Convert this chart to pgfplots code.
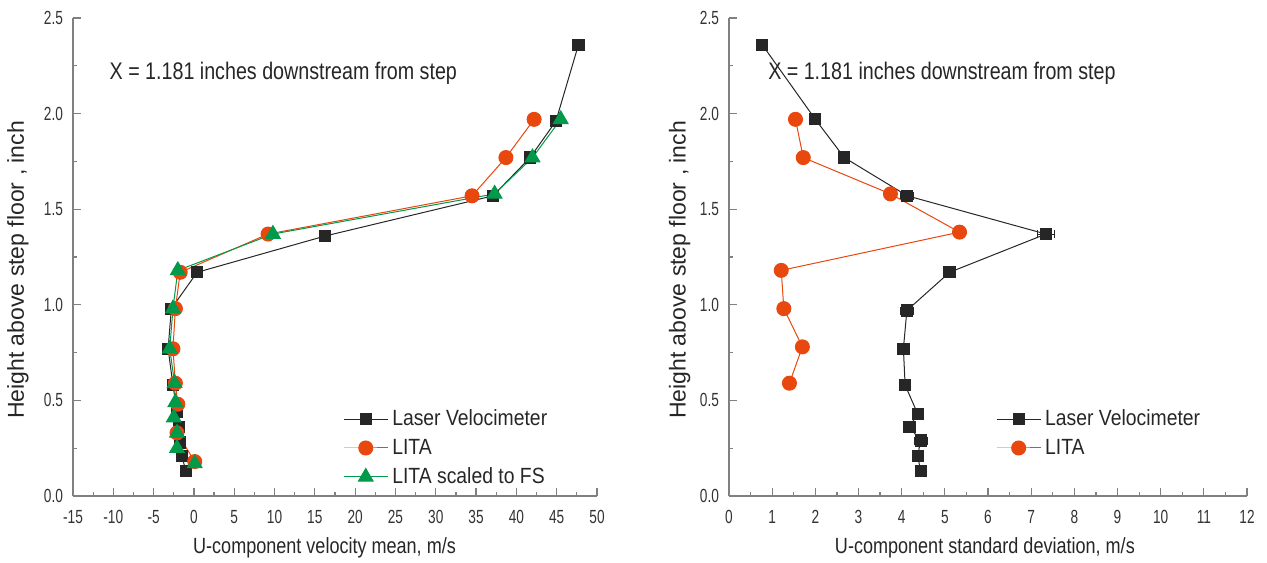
\documentclass[border=0pt]{standalone}
\usepackage{fontspec}
\setmainfont{Liberation Sans}
\newfontfamily\cond[FakeStretch=0.72]{Liberation Sans}
\newfontfamily\semi[FakeStretch=0.88]{Liberation Sans}
\newfontfamily\narrow[FakeStretch=0.82]{Liberation Sans}
\usepackage{pgfplots}
\pgfplotsset{compat=1.18}

\definecolor{lvblack}{HTML}{262626}
\definecolor{litaorange}{HTML}{E8470E}
\definecolor{fsgreen}{HTML}{009A4A}
\definecolor{axgray}{HTML}{808080}

\pgfplotsset{
  stepaxis/.style={
    scale only axis,
    height=239pt,
    axis x line*=bottom, axis y line*=left,
    axis line style={axgray, line width=0.8pt},
    tick align=inside,
    major tick length=4pt, minor tick length=2pt,
    every tick/.style={axgray, line width=0.6pt},
    ymin=0, ymax=2.5, ytick={0,0.5,...,2.5}, minor y tick num=1,
    minor x tick num=1,
    /pgf/number format/assume math mode=true,
    yticklabel style={/pgf/number format/fixed, /pgf/number format/fixed zerofill,
      /pgf/number format/precision=1, xshift=-1.5pt},
    xticklabel style={yshift=-3.5pt},
    tick label style={font=\cond\fontsize{9.5}{10}\selectfont, text=black!80},
    xlabel style={font=\narrow\fontsize{11}{13}\selectfont, text=black!85},
    ylabel style={font=\fontsize{11.5}{13}\selectfont, text=black!85},
    legend style={draw=none, fill=none, inner sep=0pt, row sep=1.2pt,
      font=\semi\fontsize{11}{13}\selectfont, text=black!85},
    legend cell align=left,
    legend image code/.code={
      \draw[mark repeat=2, mark phase=2, #1] plot coordinates {(0pt,0pt) (11pt,0pt) (22pt,0pt)};},
    lv/.style={color=lvblack, line width=0.5pt, mark=square*, mark size=2.8pt,
      mark options={fill=lvblack, draw=lvblack}},
    lita/.style={color=litaorange, line width=0.5pt, mark=*, mark size=3.5pt,
      mark options={fill=litaorange, draw=litaorange}},
    fs/.style={color=fsgreen, line width=0.5pt, mark=triangle*, mark size=4.2pt,
      mark options={fill=fsgreen, draw=fsgreen}},
  }
}

\begin{document}
\begin{tikzpicture}
% left: mean velocity
\begin{axis}[stepaxis,
  at={(0pt,0pt)}, anchor=south west,
  width=262pt,
  xmin=-15, xmax=50, xtick={-15,-10,...,50},
  xlabel={U-component velocity mean, m/s},
  ylabel={Height above step floor , inch},
  every axis x label/.append style={at={(axis description cs:0.48,-0.109)}, anchor=center},
  every axis y label/.append style={at={(axis description cs:-0.105,0.473)}, anchor=center},
  legend style={at={(rel axis cs:0.515,0.19)}, anchor=north west},
]
\addplot[lv] coordinates {
  (47.7,2.36) (44.9,1.96) (41.7,1.77) (37.1,1.57) (16.3,1.36) (0.4,1.17)
  (-2.8,0.98) (-3.2,0.77) (-2.6,0.58) (-2.1,0.44) (-1.9,0.36) (-1.7,0.28)
  (-1.5,0.21) (-1.0,0.13)};
\addplot[lita] coordinates {
  (42.2,1.97) (38.7,1.77) (34.5,1.57) (9.2,1.37) (-1.7,1.17) (-2.3,0.98)
  (-2.6,0.77) (-2.3,0.59) (-2.0,0.48) (-2.1,0.33) (0.1,0.18)};
\addplot[fs] coordinates {
  (45.5,1.97) (42.0,1.77) (37.3,1.58) (9.8,1.37) (-2.0,1.18) (-2.6,0.98)
  (-3.0,0.77) (-2.4,0.59) (-2.3,0.49) (-2.5,0.41) (-2.1,0.33) (-2.1,0.25)
  (0.1,0.17)};
\legend{Laser Velocimeter, LITA, LITA scaled to FS}
\node[anchor=west, font=\narrow\fontsize{12}{14}\selectfont, text=black!85, inner sep=0pt]
  at (axis cs:-10.5,2.21) {X = 1.181 inches downstream from step};
\end{axis}

% right: standard deviation
\begin{axis}[stepaxis,
  at={(328pt,0pt)}, anchor=south west,
  width=259pt,
  xmin=0, xmax=12, xtick={0,1,...,12},
  xlabel={U-component standard deviation, m/s},
  ylabel={Height above step floor , inch},
  every axis x label/.append style={at={(axis description cs:0.494,-0.109)}, anchor=center},
  every axis y label/.append style={at={(axis description cs:-0.095,0.473)}, anchor=center},
  legend style={at={(rel axis cs:0.515,0.19)}, anchor=north west},
]
\addplot[lv, error bars/.cd, x dir=both, x explicit,
  error bar style={line width=0.4pt, lvblack}, error mark options={rotate=90, mark size=2pt, line width=0.4pt}]
  coordinates {
  (0.77,2.36) (2.0,1.97) (2.67,1.77) (4.13,1.57) +- (0.15,0) (7.34,1.37) +- (0.2,0)
  (5.11,1.17) (4.12,0.97) +- (0.15,0) (4.04,0.77) (4.08,0.58) (4.37,0.43) +- (0.13,0)
  (4.18,0.36) (4.44,0.29) +- (0.15,0) (4.37,0.21) (4.44,0.13) +- (0.1,0)};
\addplot[lita] coordinates {
  (1.54,1.97) (1.72,1.77) (3.74,1.58) (5.34,1.38) (1.21,1.18) (1.27,0.98)
  (1.70,0.78) (1.40,0.59)};
\legend{Laser Velocimeter, LITA}
\node[anchor=west, font=\narrow\fontsize{12}{14}\selectfont, text=black!85, inner sep=0pt]
  at (axis cs:0.9,2.21) {X = 1.181 inches downstream from step};
\end{axis}

\pgfresetboundingbox
\path[use as bounding box] (-36.5pt,-33pt) rectangle (597pt,248pt);
\end{tikzpicture}
\end{document}
